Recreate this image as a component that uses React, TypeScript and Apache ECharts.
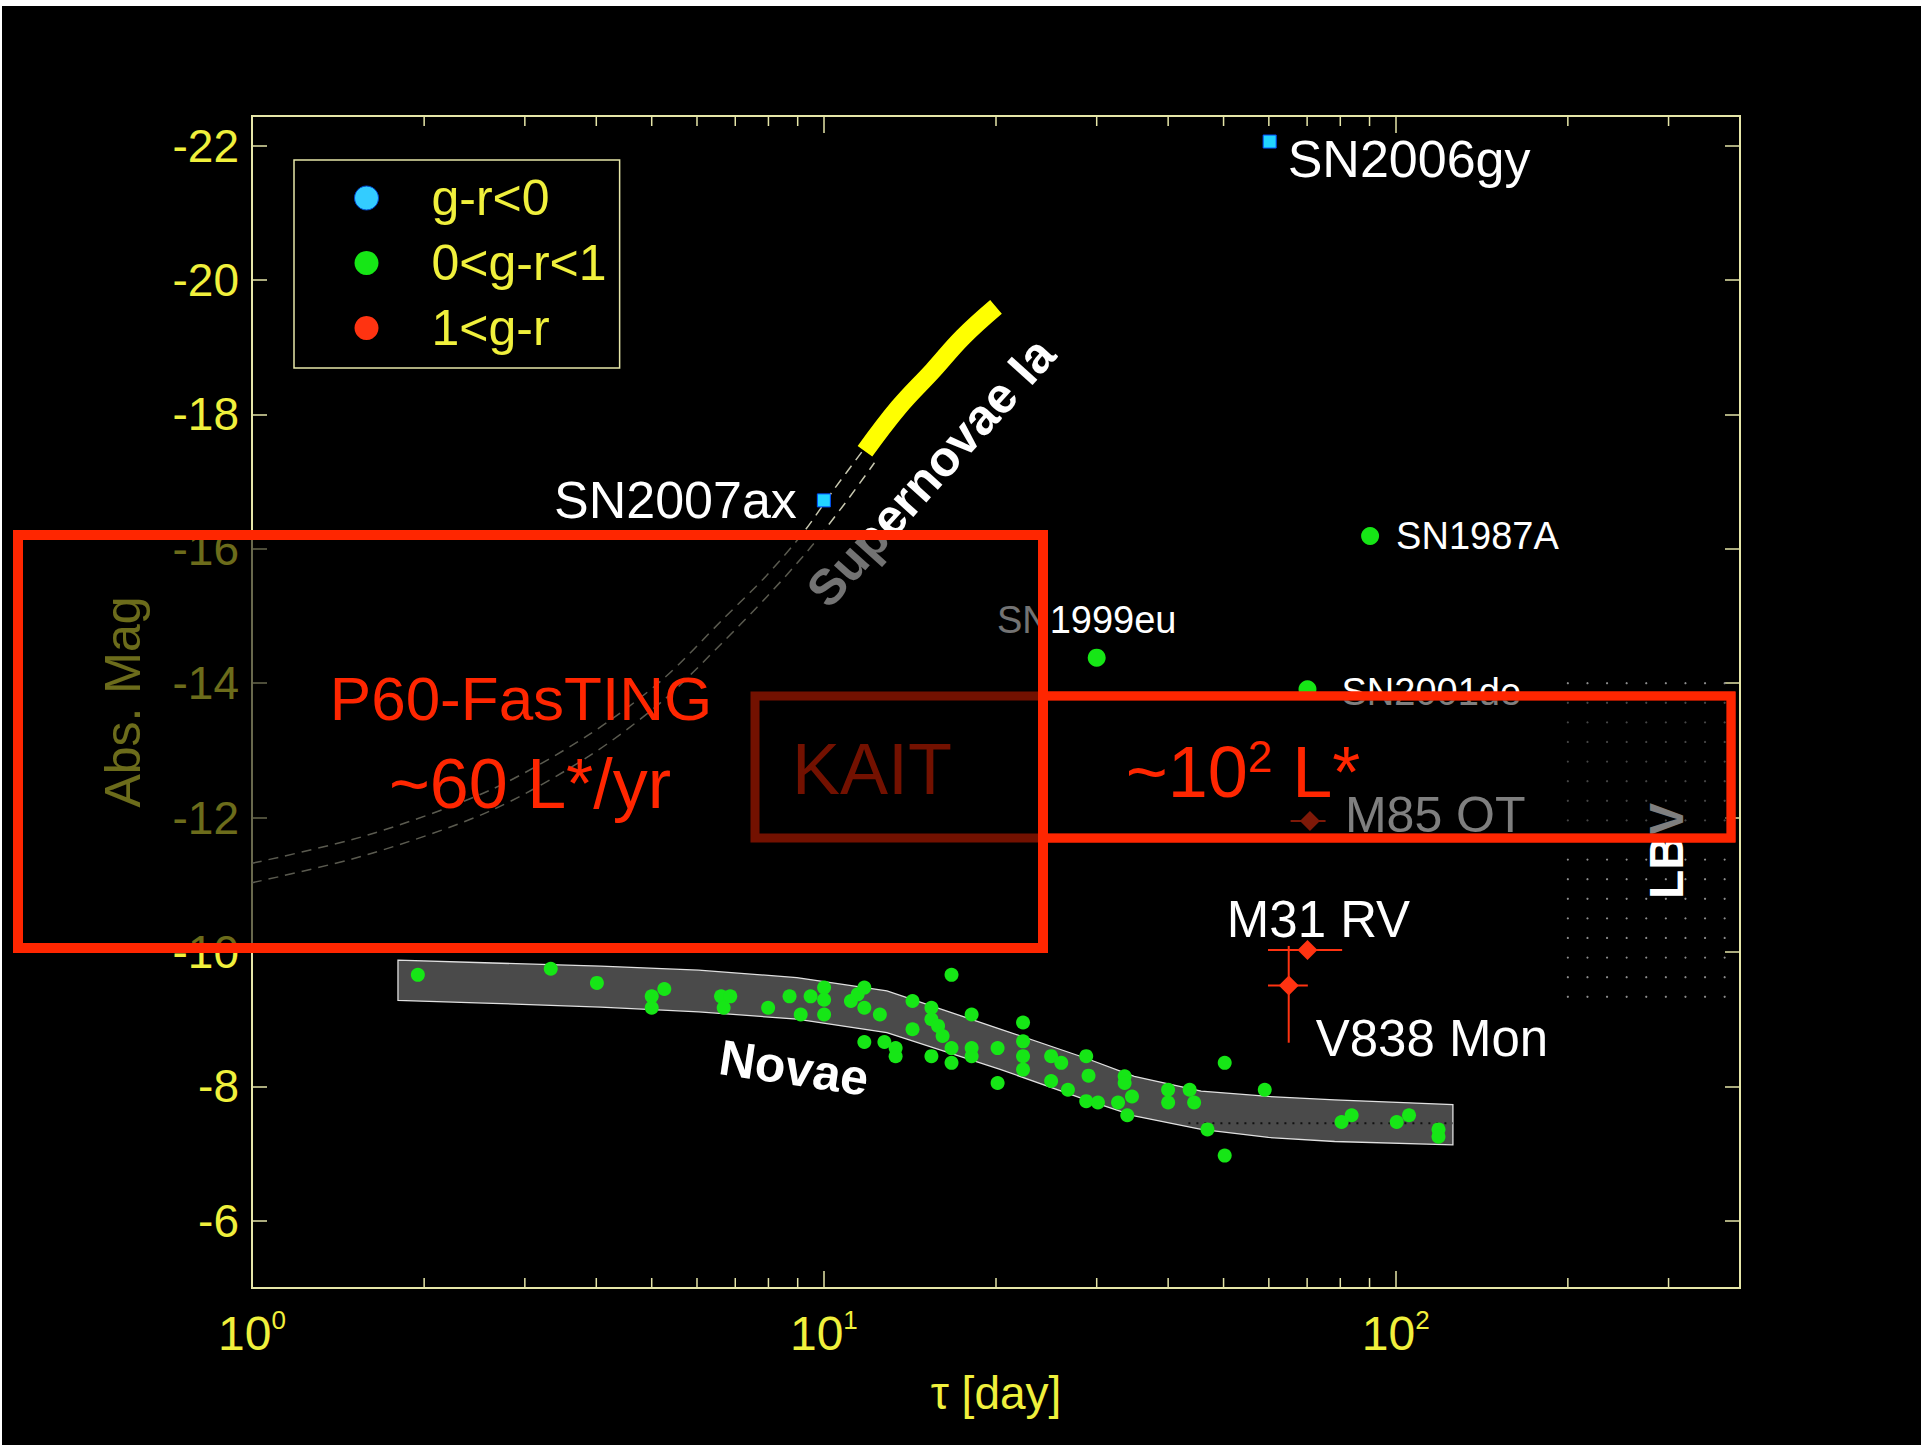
import React, { useEffect, useRef } from 'react';
import * as echarts from 'echarts';

const FONT = '"Liberation Sans", Arial, Helvetica, sans-serif';
const YEL = '#f0f03c';
const AXIS = '#e6e6a8';
const RED = '#ff2600';
const GREEN = '#16e616';
const CYAN = '#22d4ff';

// ---- axes ----
const X_MIN = 1;
const X_MAX = 400;
const Y_TOP = -22.44;
const Y_BOTTOM = -5;
const yTickValues = [-22, -20, -18, -16, -14, -12, -10, -8, -6];
const xMinorTicks = [2, 3, 4, 5, 6, 7, 8, 9, 20, 30, 40, 50, 60, 70, 80, 90, 200, 300];

// ---- g-r<0 (cyan squares) ----
const blueNames = ['SN2006gy', 'SN2007ax'];
const blueX = [60.2, 10.0];
const blueY = [-22.06, -16.72];

// ---- 0<g-r<1 named SNe ----
const greenNames = ['SN1987A', 'SN1999eu', 'SN2001de'];
const greenX = [90.2, 30.0, 70.1];
const greenY = [-16.19, -14.38, -13.91];

// ---- 1<g-r (red diamonds with error bars) ----
const redNames = ['M85 OT', 'M31 RV', 'V838 Mon'];
const redX = [70.8, 70.1, 65.0];
const redY = [-11.95, -10.03, -9.5];
const redXLo = [65.5, 59.8, 59.8];
const redXHi = [75.4, 80.6, 70.2];
const redYLo = [-11.95, -10.03, -10.09];
const redYHi = [-11.95, -10.03, -8.65];

// ---- novae (green dots) ----
const novaeX = [1.95, 3.33, 4.01, 5.0, 5.0, 5.26, 6.61, 6.86, 6.68, 7.99, 8.71, 9.11, 9.48, 10.01, 10.01, 10.01, 11.15, 11.46, 11.77, 11.77, 12.53, 11.77, 12.76, 13.35, 13.35, 14.29, 14.29, 15.42, 15.42, 15.84, 16.13, 15.42, 16.72, 16.72, 16.72, 18.13, 18.13, 18.13, 20.13, 20.13, 22.3, 22.3, 22.3, 22.3, 24.97, 26.01, 24.97, 26.72, 28.76, 29.03, 28.76, 30.15, 32.69, 33.57, 33.57, 34.58, 33.93, 39.99, 40.0, 43.62, 44.41, 46.86, 50.23, 50.23, 59.02, 80.4, 83.74, 100.4, 105.5, 118.8, 118.8];
const novaeY = [-9.66, -9.75, -9.54, -9.34, -9.17, -9.45, -9.34, -9.34, -9.17, -9.17, -9.34, -9.07, -9.34, -9.47, -9.29, -9.07, -9.27, -9.37, -9.47, -9.17, -9.07, -8.66, -8.66, -8.57, -8.45, -9.27, -8.85, -9.17, -9.0, -8.9, -8.75, -8.45, -8.57, -8.35, -9.66, -9.07, -8.57, -8.45, -8.57, -8.05, -8.95, -8.67, -8.45, -8.25, -8.45, -8.35, -8.08, -7.95, -8.45, -8.16, -7.78, -7.76, -7.76, -8.15, -8.05, -7.85, -7.57, -7.95, -7.76, -7.95, -7.76, -7.36, -8.35, -6.97, -7.95, -7.47, -7.57, -7.47, -7.57, -7.36, -7.25];

// ---- novae band ----
const novaBandX = [1.8, 2.55, 4.07, 6.04, 8.97, 12.89, 20.4, 28.5, 34.9, 45.7, 59.9, 78.2, 125.9];
const novaBandUpper = [-9.88, -9.84, -9.79, -9.73, -9.62, -9.42, -8.85, -8.43, -8.15, -7.93, -7.85, -7.8, -7.73];
const novaBandLower = [-9.28, -9.24, -9.18, -9.11, -9.0, -8.8, -8.25, -7.81, -7.56, -7.36, -7.24, -7.18, -7.13];
const novaMidX = [43.4, 125.9];
const novaMidY = [-7.45, -7.45];

// ---- SN Ia ----
const snIaX = [11.8, 13.5, 15.5, 17.5, 20.0];
const snIaY = [-17.45, -18.1, -18.65, -19.15, -19.6];
const snIaUpperX = [1.0, 1.594, 2.611, 3.877, 5.216, 6.676, 7.936, 9.204, 10.41, 11.84];
const snIaUpperY = [-11.32, -11.74, -12.41, -13.23, -14.05, -14.96, -15.6, -16.24, -16.88, -17.52];
const snIaLowerX = [1.0, 1.594, 2.611, 3.877, 5.216, 6.676, 7.936, 9.437, 10.94, 12.26];
const snIaLowerY = [-11.03, -11.45, -12.1, -12.91, -13.73, -14.62, -15.28, -16.0, -16.7, -17.28];

// ---- LBV region [xMin, xMax, yTop, yBottom] ----
const lbvRegion = [200, 380, -14, -8.9];

// label placement (style only)
const labelPlacement: Record<string, { align: string; offset: [number, number]; size: number }> = {
  SN2006gy: { align: 'left', offset: [18, 17], size: 52 },
  SN2007ax: { align: 'right', offset: [-27, 0], size: 52 },
  SN1987A: { align: 'left', offset: [26, 0], size: 38 },
  SN1999eu: { align: 'center', offset: [-10, -38], size: 38 },
  SN2001de: { align: 'left', offset: [34, 3], size: 38 },
  'M85 OT': { align: 'left', offset: [35, -6], size: 50 },
  'M31 RV': { align: 'center', offset: [11, -30], size: 51 },
  'V838 Mon': { align: 'left', offset: [27, 53], size: 51 },
};

function labelFor(name: string) {
  const p = labelPlacement[name];
  return {
    show: true,
    position: 'inside',
    align: p.align,
    verticalAlign: 'middle',
    offset: p.offset,
    formatter: '{b}',
    color: '#ffffff',
    opacity: 1,
    textBorderWidth: 0,
    fontSize: p.size,
    fontFamily: FONT,
  };
}

function buildOption() {
  const pairs = (xs: number[], ys: number[]) => xs.map((x, i) => [x, ys[i]]);

  return {
    animation: false,
    backgroundColor: '#000000',
    grid: {
      left: 252, top: 116, right: 181, bottom: 157,
      show: true, borderColor: AXIS, borderWidth: 2, backgroundColor: 'transparent',
    },
    legend: {
      orient: 'vertical',
      left: 294,
      top: 160,
      padding: [13, 13, 15, 60],
      itemWidth: 24,
      itemHeight: 24,
      itemGap: 15,
      borderColor: AXIS,
      borderWidth: 1.5,
      textStyle: { color: YEL, fontSize: 50, fontFamily: FONT, lineHeight: 50, padding: [0, 0, 0, 48] },
      data: [
        { name: 'g-r<0', icon: 'circle', itemStyle: { color: '#33ccff', borderColor: '#0044cc', borderWidth: 1, opacity: 1 } },
        { name: '0<g-r<1', icon: 'circle', itemStyle: { color: GREEN, opacity: 1 } },
        { name: '1<g-r', icon: 'circle', itemStyle: { color: '#ff3311', opacity: 1 } },
      ],
    },
    xAxis: [
      {
        type: 'log', logBase: 10, min: X_MIN, max: X_MAX, position: 'bottom',
        axisLine: { show: false },
        splitLine: { show: false },
        minorTick: { show: false },
        axisTick: { show: true, inside: true, length: 17, lineStyle: { color: AXIS, width: 1.5 } },
        axisLabel: {
          margin: 19,
          showMaxLabel: false,
          formatter: (v: number) => `{b|10}{s|${Math.round(Math.log10(v))}}`,
          rich: {
            b: { fontSize: 48, color: YEL, fontFamily: FONT, lineHeight: 52 },
            s: { fontSize: 26, color: YEL, fontFamily: FONT, lineHeight: 26, verticalAlign: 'top' },
          },
        },
        name: 'τ [day]',
        nameLocation: 'middle',
        nameGap: 82,
        nameTextStyle: { color: YEL, fontSize: 46, fontFamily: FONT },
      },
      {
        type: 'log', logBase: 10, min: X_MIN, max: X_MAX, position: 'top',
        axisLine: { show: false },
        splitLine: { show: false },
        minorTick: { show: false },
        axisTick: { show: true, inside: true, length: 17, lineStyle: { color: AXIS, width: 1.5 } },
        axisLabel: { show: false },
      },
    ],
    yAxis: [
      {
        type: 'value', min: Y_TOP, max: Y_BOTTOM, inverse: true, position: 'left',
        axisLine: { show: false },
        splitLine: { show: false },
        axisTick: { show: true, inside: true, length: 15, customValues: yTickValues, lineStyle: { color: AXIS, width: 1.5 } },
        axisLabel: { customValues: yTickValues, color: YEL, fontSize: 46, fontFamily: FONT, margin: 13 },
        name: 'Abs. Mag',
        nameLocation: 'middle',
        nameGap: 104,
        nameTextStyle: { color: YEL, fontSize: 50, fontFamily: FONT },
      },
      {
        type: 'value', min: Y_TOP, max: Y_BOTTOM, inverse: true, position: 'right',
        axisLine: { show: false },
        splitLine: { show: false },
        axisTick: { show: true, inside: true, length: 15, customValues: yTickValues, lineStyle: { color: AXIS, width: 1.5 } },
        axisLabel: { show: false },
      },
    ],
    series: [
      // novae band
      {
        type: 'custom', name: 'novaeBand', silent: true, z: 1,
        data: [[novaBandX[0], novaBandUpper[0]]],
        encode: { x: 0, y: 1 },
        renderItem: (_p: any, api: any) => {
          const pts: number[][] = [];
          for (let i = 0; i < novaBandX.length; i++) pts.push(api.coord([novaBandX[i], novaBandUpper[i]]));
          for (let i = novaBandX.length - 1; i >= 0; i--) pts.push(api.coord([novaBandX[i], novaBandLower[i]]));
          return { type: 'polygon', shape: { points: pts }, style: { fill: '#4a4a4a', stroke: '#e0e0e0', lineWidth: 1.3 } };
        },
      },
      {
        type: 'line', name: 'novaMid', silent: true, z: 2, symbol: 'none',
        data: pairs(novaMidX, novaMidY),
        lineStyle: { color: '#111111', width: 2, type: [2, 6], opacity: 1 },
      },
      // SN Ia envelope (dashed)
      {
        type: 'line', name: 'snIaUpper', silent: true, z: 2, symbol: 'none', smooth: 0.3,
        data: pairs(snIaUpperX, snIaUpperY),
        lineStyle: { color: '#c8c8b0', width: 1.5, type: [10, 7] },
      },
      {
        type: 'line', name: 'snIaLower', silent: true, z: 2, symbol: 'none', smooth: 0.3,
        data: pairs(snIaLowerX, snIaLowerY),
        lineStyle: { color: '#c8c8b0', width: 1.5, type: [10, 7] },
      },
      {
        type: 'line', name: 'snIa', silent: true, z: 3, symbol: 'none', smooth: 0.4,
        data: pairs(snIaX, snIaY),
        lineStyle: { color: '#ffff00', width: 18, cap: 'butt', opacity: 1 },
      },
      // LBV dotted region
      {
        type: 'custom', name: 'lbv', silent: true, z: 1,
        data: [lbvRegion],
        encode: { x: [0, 1], y: [2, 3] },
        renderItem: (_p: any, api: any) => {
          const a = api.coord([api.value(0), api.value(2)]);
          const b = api.coord([api.value(1), api.value(3)]);
          const children: any[] = [];
          const step = 19.6;
          for (let x = a[0]; x <= b[0] + 0.5; x += step) {
            for (let y = a[1]; y <= b[1] + 0.5; y += step) {
              children.push({ type: 'circle', shape: { cx: x, cy: y, r: 1.1 }, style: { fill: '#8c8c8c' } });
            }
          }
          return { type: 'group', children };
        },
      },
      // minor x ticks (bottom and top)
      {
        type: 'custom', name: 'minorTicks', silent: true, z: 3,
        data: xMinorTicks.map((v) => [v, Y_BOTTOM]),
        encode: { x: 0, y: 1 },
        renderItem: (params: any, api: any) => {
          const x = api.coord([api.value(0), api.value(1)])[0];
          const cs = params.coordSys;
          const yt = cs.y;
          const yb = cs.y + cs.height;
          return {
            type: 'group',
            children: [
              { type: 'line', shape: { x1: x, y1: yb, x2: x, y2: yb - 10 }, style: { stroke: AXIS, lineWidth: 1.5 } },
              { type: 'line', shape: { x1: x, y1: yt, x2: x, y2: yt + 10 }, style: { stroke: AXIS, lineWidth: 1.5 } },
            ],
          };
        },
      },
      // novae
      {
        type: 'scatter', name: '0<g-r<1', z: 4, symbol: 'circle', symbolSize: 14,
        itemStyle: { color: GREEN, opacity: 1 },
        data: pairs(novaeX, novaeY),
      },
      {
        type: 'scatter', name: '0<g-r<1', z: 4, symbol: 'circle', symbolSize: 18,
        itemStyle: { color: GREEN, opacity: 1 },
        data: greenNames.map((n, i) => ({ name: n, value: [greenX[i], greenY[i]], label: labelFor(n) })),
      },
      {
        type: 'scatter', name: 'g-r<0', z: 4, symbol: 'rect', symbolSize: 13,
        itemStyle: { color: CYAN, borderColor: '#0050ff', borderWidth: 1, opacity: 1 },
        data: blueNames.map((n, i) => ({ name: n, value: [blueX[i], blueY[i]], label: labelFor(n) })),
      },
      {
        type: 'custom', name: 'errorBars', silent: true, z: 4,
        data: redNames.map((_n, i) => [redX[i], redY[i], redXLo[i], redXHi[i], redYLo[i], redYHi[i]]),
        encode: { x: 0, y: 1 },
        renderItem: (_p: any, api: any) => {
          const c = api.coord([api.value(0), api.value(1)]);
          const l = api.coord([api.value(2), api.value(1)]);
          const r = api.coord([api.value(3), api.value(1)]);
          const t = api.coord([api.value(0), api.value(4)]);
          const b = api.coord([api.value(0), api.value(5)]);
          return {
            type: 'group',
            children: [
              { type: 'line', shape: { x1: l[0], y1: c[1], x2: r[0], y2: c[1] }, style: { stroke: '#ff3311', lineWidth: 2 } },
              { type: 'line', shape: { x1: c[0], y1: t[1], x2: c[0], y2: b[1] }, style: { stroke: '#ff3311', lineWidth: 2 } },
            ],
          };
        },
      },
      {
        type: 'scatter', name: '1<g-r', z: 5, symbol: 'diamond', symbolSize: 20,
        itemStyle: { color: '#ff3311', opacity: 1 },
        data: redNames.map((n, i) => ({ name: n, value: [redX[i], redY[i]], label: labelFor(n) })),
      },
    ],
    graphic: [
      { type: 'rect', z: 100, shape: { x: 0, y: 0, width: 1921, height: 6 }, style: { fill: '#ffffff' } },
      { type: 'rect', z: 100, shape: { x: 0, y: 0, width: 2, height: 1445 }, style: { fill: '#ffffff' } },
      {
        type: 'text', z: 10, x: 931, y: 472, rotation: 0.836,
        style: { text: 'Supernovae Ia', fill: '#ffffff', fontSize: 50, fontWeight: 'bold', fontFamily: FONT, align: 'center', verticalAlign: 'middle', textAlign: 'center', textVerticalAlign: 'middle' },
      },
      {
        type: 'text', z: 10, x: 794, y: 1068, rotation: -0.15,
        style: { text: 'Novae', fill: '#ffffff', fontSize: 50, fontWeight: 'bold', fontFamily: FONT, align: 'center', verticalAlign: 'middle', textAlign: 'center', textVerticalAlign: 'middle' },
      },
      {
        type: 'text', z: 10, x: 1666, y: 851, rotation: Math.PI / 2,
        style: { text: 'LBV', fill: '#ffffff', fontSize: 48, fontWeight: 'bold', fontFamily: FONT, align: 'center', verticalAlign: 'middle', textAlign: 'center', textVerticalAlign: 'middle' },
      },
      // KAIT box (beneath the P60 overlay)
      { type: 'rect', z: 20, shape: { x: 755, y: 696, width: 976, height: 142 }, style: { fill: 'none', stroke: RED, lineWidth: 9 } },
      {
        type: 'text', z: 20, x: 872, y: 769,
        style: { text: 'KAIT', fill: RED, fontSize: 72, fontFamily: FONT, align: 'center', verticalAlign: 'middle', textAlign: 'center', textVerticalAlign: 'middle' },
      },
      // ~10^2 L* box
      { type: 'rect', z: 30, shape: { x: 1043, y: 696, width: 688, height: 142 }, style: { fill: 'rgba(0,0,0,0.5)', stroke: RED, lineWidth: 9 } },
      // P60-FasTING box
      { type: 'rect', z: 40, shape: { x: 18, y: 535, width: 1025, height: 413 }, style: { fill: 'rgba(0,0,0,0.55)', stroke: RED, lineWidth: 10 } },
      {
        type: 'text', z: 50, x: 521, y: 698,
        style: { text: 'P60-FasTING', fill: RED, fontSize: 62, fontFamily: FONT, align: 'center', verticalAlign: 'middle', textAlign: 'center', textVerticalAlign: 'middle' },
      },
      {
        type: 'text', z: 50, x: 530, y: 784,
        style: { text: '~60 L*/yr', fill: RED, fontSize: 70, fontFamily: FONT, align: 'center', verticalAlign: 'middle', textAlign: 'center', textVerticalAlign: 'middle' },
      },
      {
        type: 'text', z: 50, x: 1243, y: 772,
        style: {
          text: '~10{s|2} L*', fill: RED, fontSize: 72, fontFamily: FONT, lineHeight: 76,
          align: 'center', verticalAlign: 'middle', textAlign: 'center', textVerticalAlign: 'middle',
          rich: { s: { fontSize: 44, fill: RED, color: RED, fontFamily: FONT, lineHeight: 44, verticalAlign: 'top' } },
        },
      },
    ],
  };
}

export default function App() {
  const ref = useRef<HTMLDivElement>(null);
  useEffect(() => {
    if (!ref.current) return;
    const chart = echarts.init(ref.current, null, { renderer: 'svg' });
    chart.setOption(buildOption() as any);
    return () => chart.dispose();
  }, []);
  return (
    <div
      ref={ref}
      style={{ position: 'absolute', left: 0, top: 0, width: 1921, height: 1445, background: '#000' }}
    />
  );
}
